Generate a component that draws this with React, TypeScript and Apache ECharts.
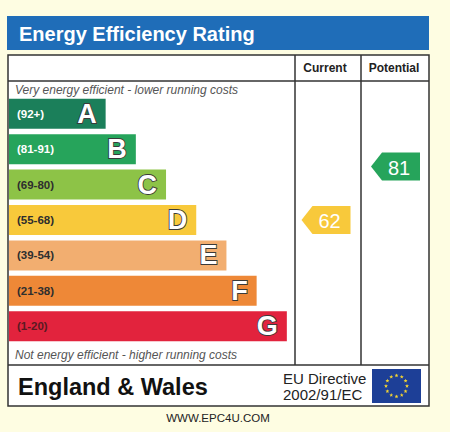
import React, { useEffect, useRef } from "react";
import * as echarts from "echarts";

const bands = ["A", "B", "C", "D", "E", "F", "G"];
const ranges = ["(92+)", "(81-91)", "(69-80)", "(55-68)", "(39-54)", "(21-38)", "(1-20)"];
const bandLengths = [32, 42, 52, 62, 72, 82, 92];
const bandColors = ["#1B7F5A", "#26A45B", "#8DC347", "#F8C93B", "#F2AE70", "#EE8837", "#E2233D"];
const rangeTextColors = ["#FFFFFF", "#FFFFFF", "#2E2E2E", "#2E2E2E", "#2E2E2E", "#2E2E2E", "#5A1A22"];
const columns = ["Current", "Potential"];
const ratings = [62, 81];
const ratingColors = ["#F8C93B", "#26A45B"];

const FONT = "Liberation Sans, Arial, sans-serif";

function starPoints(cx: number, cy: number, R: number) {
  const pts: number[][] = [];
  const r = R * 0.42;
  for (let i = 0; i < 10; i++) {
    const a = (Math.PI / 5) * i - Math.PI / 2;
    const rr = i % 2 === 0 ? R : r;
    pts.push([cx + rr * Math.cos(a), cy + rr * Math.sin(a)]);
  }
  return pts;
}

export default function App() {
  const ref = useRef<HTMLDivElement>(null);
  useEffect(() => {
    if (!ref.current) return;
    const chart = echarts.init(ref.current, undefined, { renderer: "svg" });

    const stars: any[] = [];
    const fcx = 396.5, fcy = 386, fr = 10.5;
    for (let k = 0; k < 12; k++) {
      const a = (Math.PI / 6) * k;
      stars.push({
        type: "polygon",
        shape: { points: starPoints(fcx + fr * Math.sin(a), fcy - fr * Math.cos(a), 2.1) },
        style: { fill: "#F5D531" },
        z: 3,
      });
    }

    const line = (x1: number, y1: number, x2: number, y2: number) => ({
      type: "line",
      shape: { x1, y1, x2, y2 },
      style: { stroke: "#333", lineWidth: 1.5 },
      z: 1,
    });

    const option: any = {
      animation: false,
      backgroundColor: "#FEFDE2",
      grid: [
        { left: 9, top: 96, width: 302, height: 248 },
        { left: 295, top: 113, width: 134, height: 281.6 },
      ],
      xAxis: [
        { type: "value", min: 0, max: 100, show: false, gridIndex: 0 },
        { type: "category", data: columns, show: false, gridIndex: 1 },
      ],
      yAxis: [
        { type: "category", data: bands, inverse: true, show: false, gridIndex: 0 },
        { type: "value", min: 0, max: 100, show: false, gridIndex: 1 },
      ],
      graphic: [
        { type: "rect", shape: { x: 7, y: 16, width: 422, height: 34 }, style: { fill: "#1F6DB8" }, z: 0 },
        {
          type: "text",
          style: { text: "Energy Efficiency Rating", x: 19, y: 34, verticalAlign: "middle", fill: "#FFFFFF", font: `bold 20px ${FONT}` },
          z: 1,
        },
        { type: "rect", shape: { x: 8, y: 55, width: 421, height: 351 }, style: { fill: "#FFFFFF", stroke: "#333", lineWidth: 1.5 }, z: 0 },
        line(8, 81, 429, 81),
        line(8, 365, 429, 365),
        line(295, 55, 295, 365),
        line(361, 55, 361, 365),
        {
          type: "text",
          style: { text: columns[0], x: 325, y: 68, align: "center", verticalAlign: "middle", fill: "#222", font: `bold 12px ${FONT}` },
          z: 1,
        },
        {
          type: "text",
          style: { text: columns[1], x: 394, y: 68, align: "center", verticalAlign: "middle", fill: "#222", font: `bold 12px ${FONT}` },
          z: 1,
        },
        {
          type: "text",
          style: { text: "Very energy efficient - lower running costs", x: 15, y: 90, verticalAlign: "middle", fill: "#555", font: `italic 12px ${FONT}` },
          z: 1,
        },
        {
          type: "text",
          style: { text: "Not energy efficient - higher running costs", x: 15, y: 355, verticalAlign: "middle", fill: "#555", font: `italic 12px ${FONT}` },
          z: 1,
        },
        {
          type: "text",
          style: { text: "England & Wales", x: 18, y: 387, verticalAlign: "middle", fill: "#111", font: `bold 23.5px ${FONT}` },
          z: 1,
        },
        {
          type: "text",
          style: { text: "EU Directive", x: 283, y: 378, verticalAlign: "middle", fill: "#222", font: `15px ${FONT}` },
          z: 1,
        },
        {
          type: "text",
          style: { text: "2002/91/EC", x: 283, y: 394, verticalAlign: "middle", fill: "#222", font: `15px ${FONT}` },
          z: 1,
        },
        { type: "rect", shape: { x: 372, y: 369, width: 49, height: 34 }, style: { fill: "#1D3F97" }, z: 2 },
        ...stars,
        {
          type: "text",
          style: { text: "WWW.EPC4U.COM", x: 218, y: 418, align: "center", verticalAlign: "middle", fill: "#222", font: `11.5px ${FONT}` },
          z: 1,
        },
      ],
      series: [
        {
          type: "bar",
          xAxisIndex: 0,
          yAxisIndex: 0,
          barWidth: 30,
          data: bandLengths.map((v, i) => ({
            value: v,
            itemStyle: { color: bandColors[i] },
            label: { color: rangeTextColors[i] },
          })),
          label: {
            show: true,
            position: "insideLeft",
            distance: 8,
            formatter: (p: any) => ranges[p.dataIndex],
            fontSize: 11.5,
            fontWeight: "bold",
            fontFamily: FONT,
          },
          silent: true,
        },
        {
          type: "bar",
          xAxisIndex: 0,
          yAxisIndex: 0,
          barWidth: 30,
          barGap: "-100%",
          data: bandLengths,
          itemStyle: { color: "rgba(0,0,0,0)" },
          label: {
            show: true,
            position: "insideRight",
            distance: 9,
            formatter: (p: any) => bands[p.dataIndex],
            fontSize: 27,
            fontWeight: "bold",
            fontFamily: FONT,
            color: "#FFFFFF",
            textBorderColor: "#3A3A3A",
            textBorderWidth: 1.8,
          },
          silent: true,
        },
        {
          type: "custom",
          xAxisIndex: 1,
          yAxisIndex: 1,
          data: ratings.map((r, i) => [i, r]),
          renderItem: (params: any, api: any) => {
            const idx = params.dataIndex;
            const p = api.coord([api.value(0), api.value(1)]);
            const w = 49, h = 28, tip = 11;
            const cx = p[0] - (idx === 0 ? 2.5 : 0);
            const x0 = cx - w / 2, x1 = cx + w / 2;
            const y0 = p[1] - h / 2, y1 = p[1] + h / 2;
            return {
              type: "group",
              children: [
                {
                  type: "polygon",
                  shape: { points: [[x0, p[1]], [x0 + tip, y0], [x1, y0], [x1, y1], [x0 + tip, y1]] },
                  style: { fill: ratingColors[idx] },
                },
                {
                  type: "text",
                  style: {
                    text: String(api.value(1)),
                    x: (x0 + tip + x1) / 2 - 2,
                    y: p[1] + 1,
                    align: "center",
                    verticalAlign: "middle",
                    fill: "#FFFFFF",
                    font: `20px ${FONT}`,
                  },
                },
              ],
            };
          },
          silent: true,
        },
      ],
    };
    chart.setOption(option);
    return () => chart.dispose();
  }, []);
  return <div ref={ref} style={{ position: "fixed", left: 0, top: 0, width: 450, height: 432 }} />;
}
